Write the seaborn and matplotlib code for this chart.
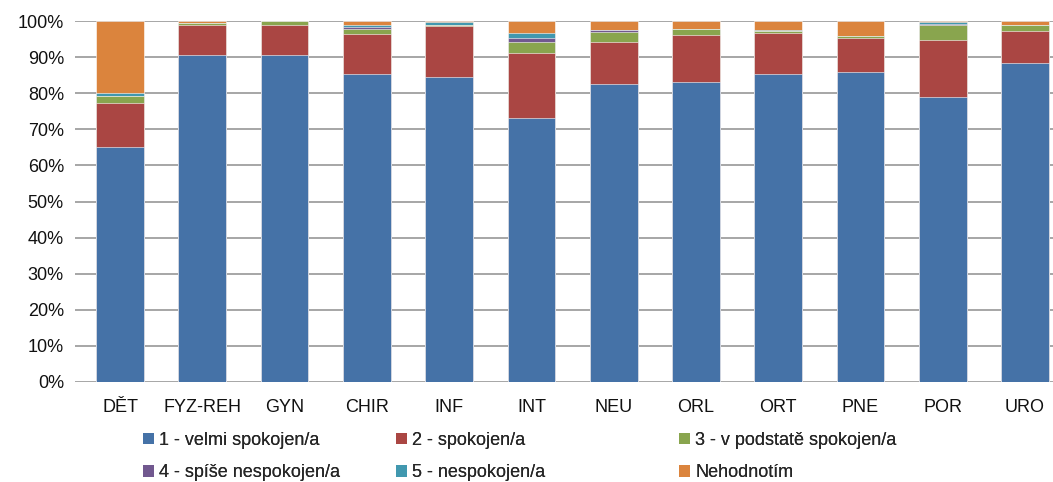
import pandas as pd
import seaborn as sns
import matplotlib.pyplot as plt
from matplotlib.patches import Patch
from matplotlib.ticker import PercentFormatter

oddeleni = ["DĚT", "FYZ-REH", "GYN", "CHIR", "INF", "INT",
            "NEU", "ORL", "ORT", "PNE", "POR", "URO"]

velmi_spokojen = [65.0, 90.6, 90.6, 85.2, 84.4, 73.0, 82.6, 83.1, 85.2, 86.0, 78.9, 88.5]
spokojen = [12.4, 8.2, 8.4, 11.2, 14.3, 18.2, 11.7, 13.0, 11.6, 9.3, 15.9, 8.8]
v_podstate = [1.9, 0.6, 1.0, 1.4, 0.3, 2.9, 2.7, 1.7, 0.4, 0.5, 4.1, 1.5]
spise_nespokojen = [0.0, 0.0, 0.0, 0.4, 0.0, 1.2, 0.5, 0.0, 0.0, 0.0, 0.4, 0.0]
nespokojen = [0.7, 0.0, 0.0, 0.6, 0.6, 1.4, 0.0, 0.0, 0.3, 0.0, 0.4, 0.0]
nehodnotim = [20.0, 0.6, 0.0, 1.2, 0.4, 3.3, 2.5, 2.2, 2.5, 4.2, 0.3, 1.2]

serie = ["1 - velmi spokojen/a", "2 - spokojen/a", "3 - v podstatě spokojen/a",
         "4 - spíše nespokojen/a", "5 - nespokojen/a", "Nehodnotím"]
barvy = ["#4572A7", "#AA4643", "#89A54E", "#71588F", "#4198AF", "#DB843D"]

df = pd.DataFrame(
    dict(zip(serie, [velmi_spokojen, spokojen, v_podstate,
                     spise_nespokojen, nespokojen, nehodnotim])),
    index=oddeleni,
)
kumul = df.cumsum(axis=1) / 100

sns.set_style("white")
plt.rcParams["font.family"] = ["Liberation Sans", "DejaVu Sans"]

fig = plt.figure(figsize=(10.53, 4.82), dpi=100)
ax = fig.add_axes([75 / 1053, 100 / 482, 978 / 1053, 361 / 482])

# stacked bars: draw cumulative totals from the top series down
for name, color in reversed(list(zip(serie, barvy))):
    sns.barplot(x=oddeleni, y=kumul[name].values, color=color, width=0.58,
                saturation=1, edgecolor="white", linewidth=0.4, ax=ax, zorder=3)

ax.set_ylim(0, 1)
ax.set_xlim(-0.547, 11.34)
ax.set_yticks([i / 10 for i in range(11)])
ax.yaxis.set_major_formatter(PercentFormatter(1.0, decimals=0))
ax.yaxis.grid(True, color="#a6a6a6", linewidth=1.4, zorder=0)
for s in ax.spines.values():
    s.set_visible(False)
ax.tick_params(axis="both", length=0, labelsize=13, colors="#111111")
ax.tick_params(axis="x", pad=12)
ax.tick_params(axis="y", pad=8)
ax.set_xlabel("")
ax.set_ylabel("")

handles = [Patch(facecolor=c, edgecolor="none") for c in barvy]
col_x = [143, 396, 679]
for i, x in enumerate(col_x):
    leg = fig.legend([handles[i], handles[i + 3]], [serie[i], serie[i + 3]],
                     loc="upper left", bbox_to_anchor=(x / 1053, 1 - 432 / 482),
                     ncol=1, frameon=False, fontsize=13, handlelength=0.6,
                     handleheight=0.6, handletextpad=0.3, labelspacing=0.85,
                     borderaxespad=0, borderpad=0)
    fig.add_artist(leg)

fig.savefig("out.png", dpi=100)
